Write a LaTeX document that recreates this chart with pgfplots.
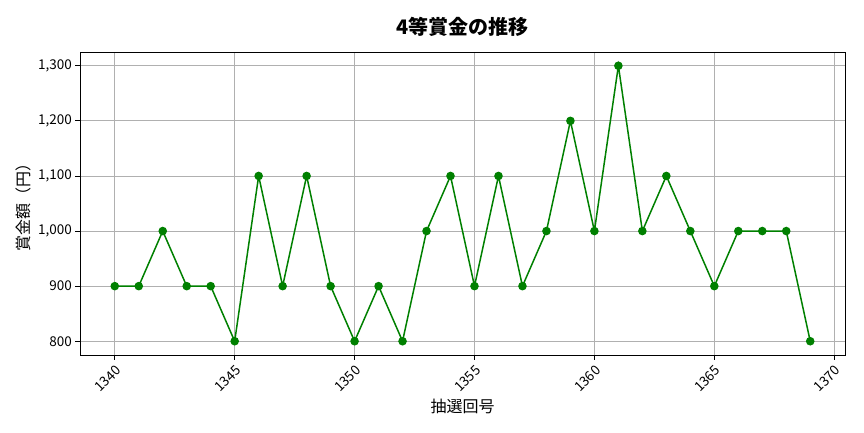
\documentclass[border=0pt]{standalone}
\usepackage{fontspec}
\setmainfont{Noto Sans CJK JP}
\usepackage{pgfplots}
\pgfplotsset{compat=1.18}
\begin{document}
\begin{tikzpicture}[x=1pt,y=1pt]
\begin{axis}[
  at={(0,0)}, anchor=south west,
  scale only axis, width=765pt, height=303pt,
  xmin=1338.55, xmax=1370.45, ymin=775, ymax=1325,
  xtick={1340,1345,...,1370},
  ytick={800,900,...,1300},
  grid=major,
  grid style={color={rgb,255:red,176;green,176;blue,176}, line width=0.8pt},
  axis line style={black, line width=0.9pt},
  tick style={black, line width=0.9pt},
  tick align=outside, tick pos=left,
  major tick length=4.5pt,
  /pgf/number format/assume math mode=true,
  x tick label style={/pgf/number format/1000 sep={}, rotate=45, anchor=north east, font=\fontsize{13.5}{15}\selectfont},
  y tick label style={/pgf/number format/1000 sep={,}, font=\fontsize{13.5}{15}\selectfont},
  xlabel={抽選回号}, ylabel={賞金額（円）},
  label style={font=\fontsize{16}{18}\selectfont},
  xlabel style={yshift=2pt},
  title={\textbf{4等賞金の推移}},
  title style={font=\fontsize{20}{22}\selectfont, yshift=6pt},
]
\addplot[color={rgb,255:red,0;green,128;blue,0}, line width=1.5pt, mark=*, mark size=3.5pt] coordinates {
(1340,900) (1341,900) (1342,1000) (1343,900) (1344,900) (1345,800)
(1346,1100) (1347,900) (1348,1100) (1349,900) (1350,800) (1351,900)
(1352,800) (1353,1000) (1354,1100) (1355,900) (1356,1100) (1357,900)
(1358,1000) (1359,1200) (1360,1000) (1361,1300) (1362,1000) (1363,1100)
(1364,1000) (1365,900) (1366,1000) (1367,1000) (1368,1000) (1369,800)
};
\end{axis}
\path[use as bounding box] (-80,-77) rectangle (784,355);
\end{tikzpicture}
\end{document}
